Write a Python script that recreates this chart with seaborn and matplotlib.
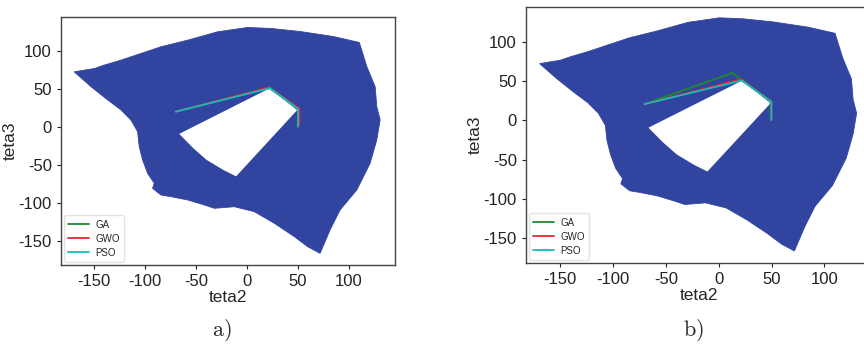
import numpy as np
import pandas as pd
import matplotlib
matplotlib.use("Agg")
import matplotlib.pyplot as plt
import seaborn as sns

# ---- data ----
# outer boundary of the reachable workspace (teta2, teta3)
outer_t2 = [-169.6, -150.0, -140.2, -123.8, -104.2, -84.5, -58.3, -29.0, 0.5, 23.4, 51.9, 84.5,
            110.0, 117.3, 125.5, 127.1, 130.4, 127.1, 120.6, 107.5, 91.1, 81.3, 71.5,
            59.4, 46.3, 26.7, 7.0, -12.6, -32.2, -42.0, -58.3, -74.7, -84.5, -92.7, -91.1,
            -97.6, -102.5, -105.8, -107.4, -114.0, -123.8, -136.8, -153.2]
outer_t3 = [72.4, 76.7, 81.2, 87.7, 96.5, 105.3, 114.0, 125.0, 130.7, 129.4, 125.4, 118.8,
            111.0, 79.4, 53.0, 26.7, 9.2, -17.1, -47.8, -82.9, -109.2, -135.5, -166.2,
            -157.5, -144.3, -126.7, -111.4, -104.9, -107.0, -102.6, -96.0, -91.7, -89.5, -80.7, -74.1,
            -61.0, -43.4, -25.9, -6.2, 9.2, 22.4, 35.5, 53.0]
# unreachable hole inside the workspace
hole_t2 = [-66.6, 22.4, 49.0, -10.8, -23.4, -39.7, -52.8]
hole_t3 = [-9.2, 51.0, 22.0, -65.0, -56.6, -43.4, -28.0]

methods = ["GA", "GWO", "PSO"]
# trajectories, panel a)
a_t2 = {"GA": [-70.0, 22.0, 50.0, 49.6], "GWO": [-70.0, 21.5, 51.2, 51.2], "PSO": [-70.0, 22.4, 50.0, 49.8]}
a_t3 = {"GA": [20.0, 51.0, 23.5, 0.0], "GWO": [20.0, 52.0, 24.0, 3.0], "PSO": [20.0, 51.0, 23.5, 0.4]}
# trajectories, panel b)
b_t2 = {"GA": [-70.5, 12.7, 49.0, 49.0], "GWO": [-70.5, 21.0, 49.5, 49.5], "PSO": [-70.5, 21.8, 49.8, 49.8]}
b_t3 = {"GA": [20.8, 60.6, 24.2, 0.5], "GWO": [20.8, 52.5, 24.0, 0.5], "PSO": [20.8, 50.8, 23.8, 0.5]}

colors = {"GA": "#1e8a2c", "GWO": "#e8262b", "PSO": "#16bcbc"}
blue = "#3145a0"

sns.set_style("ticks")
plt.rcParams["font.family"] = ["Liberation Sans", "DejaVu Sans"]
plt.rcParams["mathtext.fontset"] = "cm"
plt.rcParams["axes.unicode_minus"] = False

fig = plt.figure(figsize=(8.64, 3.44), dpi=100)
ax_a = fig.add_axes([0.0706, 0.2297, 0.3866, 0.7210])
ax_b = fig.add_axes([0.6088, 0.2355, 0.4005, 0.7442])


def make_df(t2, t3):
    rows = []
    for m in methods:
        for i, (x, y) in enumerate(zip(t2[m], t3[m])):
            rows.append({"teta2": x, "teta3": y, "method": m, "order": i})
    return pd.DataFrame(rows)


for ax, t2, t3 in [(ax_a, a_t2, a_t3), (ax_b, b_t2, b_t3)]:
    ax.fill(outer_t2, outer_t3, color=blue, lw=0.6, ec=blue, zorder=1)
    ax.fill(hole_t2, hole_t3, color="white", lw=0, zorder=2)
    df = make_df(t2, t3)
    sns.lineplot(data=df, x="teta2", y="teta3", hue="method", units="method", estimator=None,
                 sort=False, palette=colors, lw=1.3, ax=ax, zorder=3)
    ax.set_xlim(-182.5, 145)
    ax.set_ylim(-181.5, 144.5)
    ax.set_xticks([-150, -100, -50, 0, 50, 100])
    ax.set_yticks([-150, -100, -50, 0, 50, 100])
    ax.tick_params(labelsize=12, length=3, width=0.8, pad=3.5, colors="#222222")
    ax.set_xlabel("teta2", fontsize=12.5, labelpad=1)
    ax.set_ylabel("teta3", fontsize=12.5, labelpad=1)
    for s in ax.spines.values():
        s.set_color("#444444")
        s.set_linewidth(1.0)
    leg = ax.legend(loc="lower left", fontsize=7, title=None, frameon=True,
                    handlelength=2.1, handletextpad=0.7, borderpad=0.45, labelspacing=0.42,
                    borderaxespad=0.3, bbox_to_anchor=(0.0, 0.0))
    leg.get_frame().set_edgecolor("#dddddd")
    for line in leg.get_lines():
        line.set_linewidth(1.3)

fig.text(0.257, 0.04, r"$\mathrm{a)}$", fontsize=16, ha="center", va="center")
fig.text(0.803, 0.04, r"$\mathrm{b)}$", fontsize=16, ha="center", va="center")

fig.savefig("out.png", dpi=100)
